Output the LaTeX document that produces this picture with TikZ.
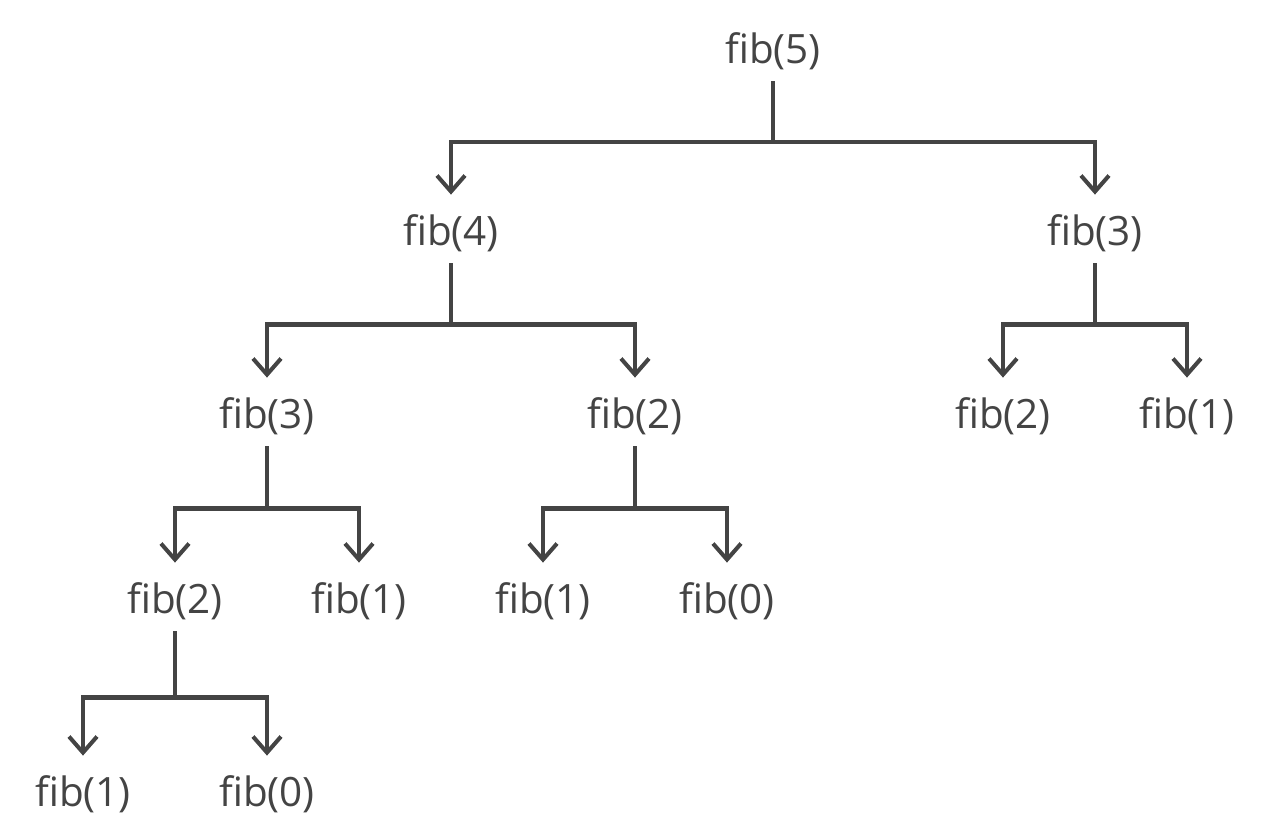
\documentclass[tikz,border=0pt]{standalone}
\usepackage{fontspec}
\setmainfont{Open Sans}
\usepackage{tikz}
\usetikzlibrary{calc,arrows.meta,positioning}
\definecolor{treegray}{HTML}{444444}

\begin{document}
\begin{tikzpicture}[
		every node/.style={font=\fontsize{11.5}{13}\selectfont, text=treegray, inner xsep=0mm, inner ysep=1.9mm},
		edge from parent/.style={draw=treegray, line width=1.15pt, -{Straight Barb[length=1.6mm, width=2.8mm]}},
		edge from parent path={($(\tikzparentnode.south)+(0,0.08)$) |- ($(\tikzparentnode.south)!.5!(\tikzchildnode.north)$) -| (\tikzchildnode.north)},
		level 1/.style={level distance=1.82cm, sibling distance=6.44cm},
		level 2/.style={level distance=1.83cm, sibling distance=1.84cm},
		level 3/.style={level distance=1.85cm, sibling distance=1.84cm},
		level 4/.style={level distance=1.93cm, sibling distance=1.84cm}]
		\useasboundingbox (0,0) rectangle (12.72,8.40);
		\node (f5) at (7.73,7.89) {fib(5)}
		child { node (f4) {fib(4)}
			child [sibling distance=3.68cm] { node (f3l) {fib(3)}
				child { node (f2l) {fib(2)}
					child { node (f1a) {fib(1)} }
					child { node (f0a) {fib(0)} }}
				child { node (f1b) {fib(1)} }}
			child [sibling distance=3.68cm] { node (f2m) {fib(2)}
				child { node (f1c) {fib(1)} }
				child { node (f0b) {fib(0)} }}
		}
		child { node (f3r) {fib(3)}
			child { node (f2r) {fib(2)} }
			child { node (f1r) {fib(1)} }};
	\end{tikzpicture}
\end{document}
